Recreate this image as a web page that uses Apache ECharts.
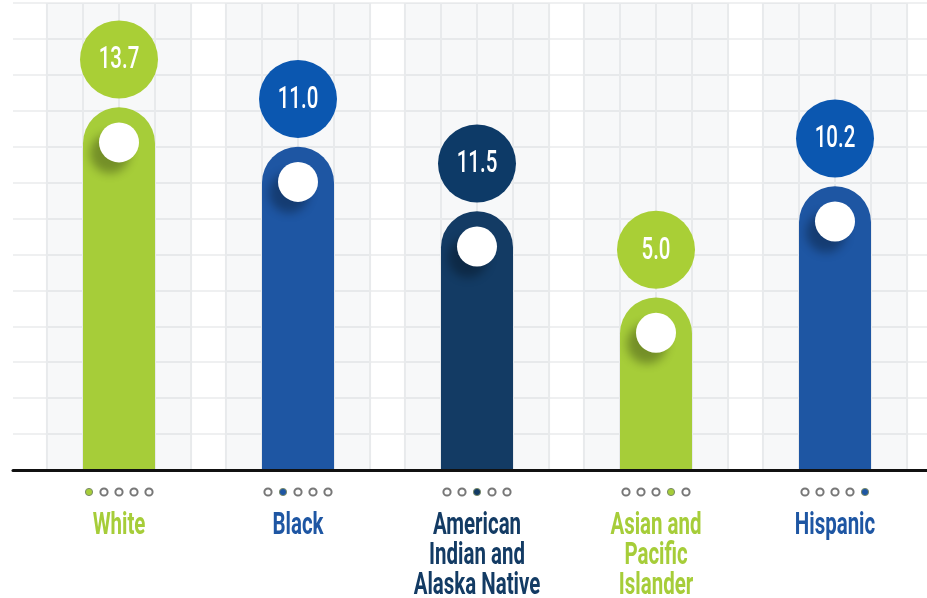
<!DOCTYPE html>
<html lang="en">
<head>
    <meta charset="utf-8"/>
    <title>Rate by group</title>
    <style>
        html, body { margin: 0; padding: 0; background: #fff; }
        #main { width: 927px; height: 598px; }
    </style>
</head>
<body>
<div id="main"></div>
<script src="https://cdn.jsdelivr.net/npm/echarts@6/dist/echarts.min.js"></script>
<script>
    // labels under each column
    var categories = ['White', 'Black', 'American\nIndian and\nAlaska Native', 'Asian and\nPacific\nIslander', 'Hispanic'];
    // values printed in the round badges
    var values = [13.7, 11.0, 11.5, 5.0, 10.2];
    // drawn column heights, in grid rows (read off the picture, not proportional to the values)
    var barHeights = [10.1, 9.0, 7.2, 4.8, 7.9];
    var barColors = ['#a6cd39', '#1e56a3', '#133b64', '#a6cd39', '#1e56a3'];
    var badgeColors = ['#a9cf36', '#0b57b0', '#0d3a67', '#a9cf36', '#0b57b0'];

    var FONT = 'Roboto, "DejaVu Sans", sans-serif';
    var SQUEEZE = 0.66;   // no condensed face installed, so text is narrowed by hand
    var rows = 13;

    function renderPanel(params, api) {
        var top = api.coord([api.value(0), api.value(1)]);
        var bottom = api.coord([api.value(0), 0]);
        var w = api.size([1, 0])[0] * 0.805;
        var x0 = top[0] - w / 2;
        var children = [{
            type: 'rect',
            shape: {x: x0, y: top[1], width: w, height: bottom[1] - top[1]},
            style: {fill: 'rgba(40,60,80,0.035)'}
        }];
        for (var k = 0; k < 5; k++) {
            var x = x0 + k * w / 4;
            children.push({
                type: 'line',
                shape: {x1: x, y1: top[1], x2: x, y2: bottom[1]},
                style: {stroke: '#e8eaec', lineWidth: 2}
            });
        }
        return {type: 'group', children: children};
    }

    function renderBadge(params, api) {
        var i = params.dataIndex;
        var c = api.coord([api.value(0), api.value(1)]);
        return {
            type: 'group',
            children: [{
                type: 'circle',
                shape: {cx: c[0], cy: c[1], r: 39},
                style: {fill: badgeColors[i]}
            }, {
                type: 'text',
                x: c[0], y: c[1] + 1,
                scaleX: SQUEEZE,
                style: {
                    text: values[i].toFixed(1),
                    fill: '#fff',
                    font: '500 31px ' + FONT,
                    align: 'center',
                    verticalAlign: 'middle'
                }
            }]
        };
    }

    function renderDots(params, api) {
        var i = api.value(0);
        var base = api.coord([i, 0]);
        var children = [];
        for (var k = 0; k < categories.length; k++) {
            var on = k === i;
            children.push({
                type: 'circle',
                shape: {cx: base[0] + (k - 2) * 15, cy: base[1] + 22, r: 3.6},
                style: {
                    fill: on ? barColors[i] : '#fff',
                    stroke: on ? '#7a8a6a' : '#777',
                    lineWidth: on ? 1 : 2
                }
            });
        }
        // category name, one text per line
        var lines = categories[i].split('\n');
        for (var j = 0; j < lines.length; j++) {
            children.push({
                type: 'text',
                x: base[0], y: base[1] + 56 + j * 30,
                scaleX: SQUEEZE,
                style: {
                    text: lines[j],
                    fill: barColors[i],
                    font: 'bold 31px ' + FONT,
                    align: 'center',
                    verticalAlign: 'middle'
                }
            });
        }
        return {type: 'group', children: children};
    }

    var chartDom = document.getElementById('main');
    var myChart = echarts.init(chartDom);
    var option = {
        animation: false,
        grid: [
            {left: 13, right: 0, top: 3, bottom: 128},
            {left: 29.5, right: 2.5, top: 3, bottom: 128}
        ],
        xAxis: [
            {
                gridIndex: 0, type: 'value', min: 0, max: 1, z: 5,
                axisLine: {show: true, onZero: false, lineStyle: {color: '#111', width: 3}},
                axisTick: {show: false}, axisLabel: {show: false}, splitLine: {show: false}
            },
            {
                gridIndex: 1, type: 'category', data: categories,
                axisLine: {show: false}, axisTick: {show: false}, axisLabel: {show: false}
            }
        ],
        yAxis: [
            {
                gridIndex: 0, type: 'value', min: 0, max: rows, interval: 1,
                axisLine: {show: false}, axisTick: {show: false}, axisLabel: {show: false},
                splitLine: {lineStyle: {color: '#eff0f1', width: 2}}
            },
            {
                gridIndex: 1, type: 'value', min: 0, max: rows, interval: 1, show: false,
                splitLine: {show: false}
            }
        ],
        series: [
            {
                name: 'panels',
                type: 'custom',
                xAxisIndex: 1, yAxisIndex: 1,
                renderItem: renderPanel,
                data: categories.map(function (c, i) { return [i, rows]; }),
                z: 1,
                silent: true
            },
            {
                name: 'columns',
                type: 'bar',
                xAxisIndex: 1, yAxisIndex: 1,
                barWidth: 72,
                data: barHeights.map(function (h, i) {
                    return {value: h, itemStyle: {color: barColors[i], borderRadius: [36, 36, 0, 0]}};
                }),
                z: 2
            },
            {
                name: 'knobs',
                type: 'scatter',
                xAxisIndex: 1, yAxisIndex: 1,
                symbolSize: 40,
                itemStyle: {
                    color: '#fff', opacity: 1,
                    shadowColor: 'rgba(0,0,0,0.3)', shadowBlur: 10,
                    shadowOffsetX: -9, shadowOffsetY: 11
                },
                data: barHeights.map(function (h, i) { return [i, h - 0.98]; }),
                z: 3
            },
            {
                name: 'badges',
                type: 'custom',
                xAxisIndex: 1, yAxisIndex: 1,
                renderItem: renderBadge,
                clip: false,
                data: barHeights.map(function (h, i) { return [i, h + 1.33]; }),
                z: 3
            },
            {
                name: 'dots',
                type: 'custom',
                xAxisIndex: 1, yAxisIndex: 1,
                renderItem: renderDots,
                clip: false,
                data: categories.map(function (c, i) { return [i, 0]; }),
                z: 4,
                silent: true
            }
        ]
    };
    myChart.setOption(option);
</script>
</body>
</html>
